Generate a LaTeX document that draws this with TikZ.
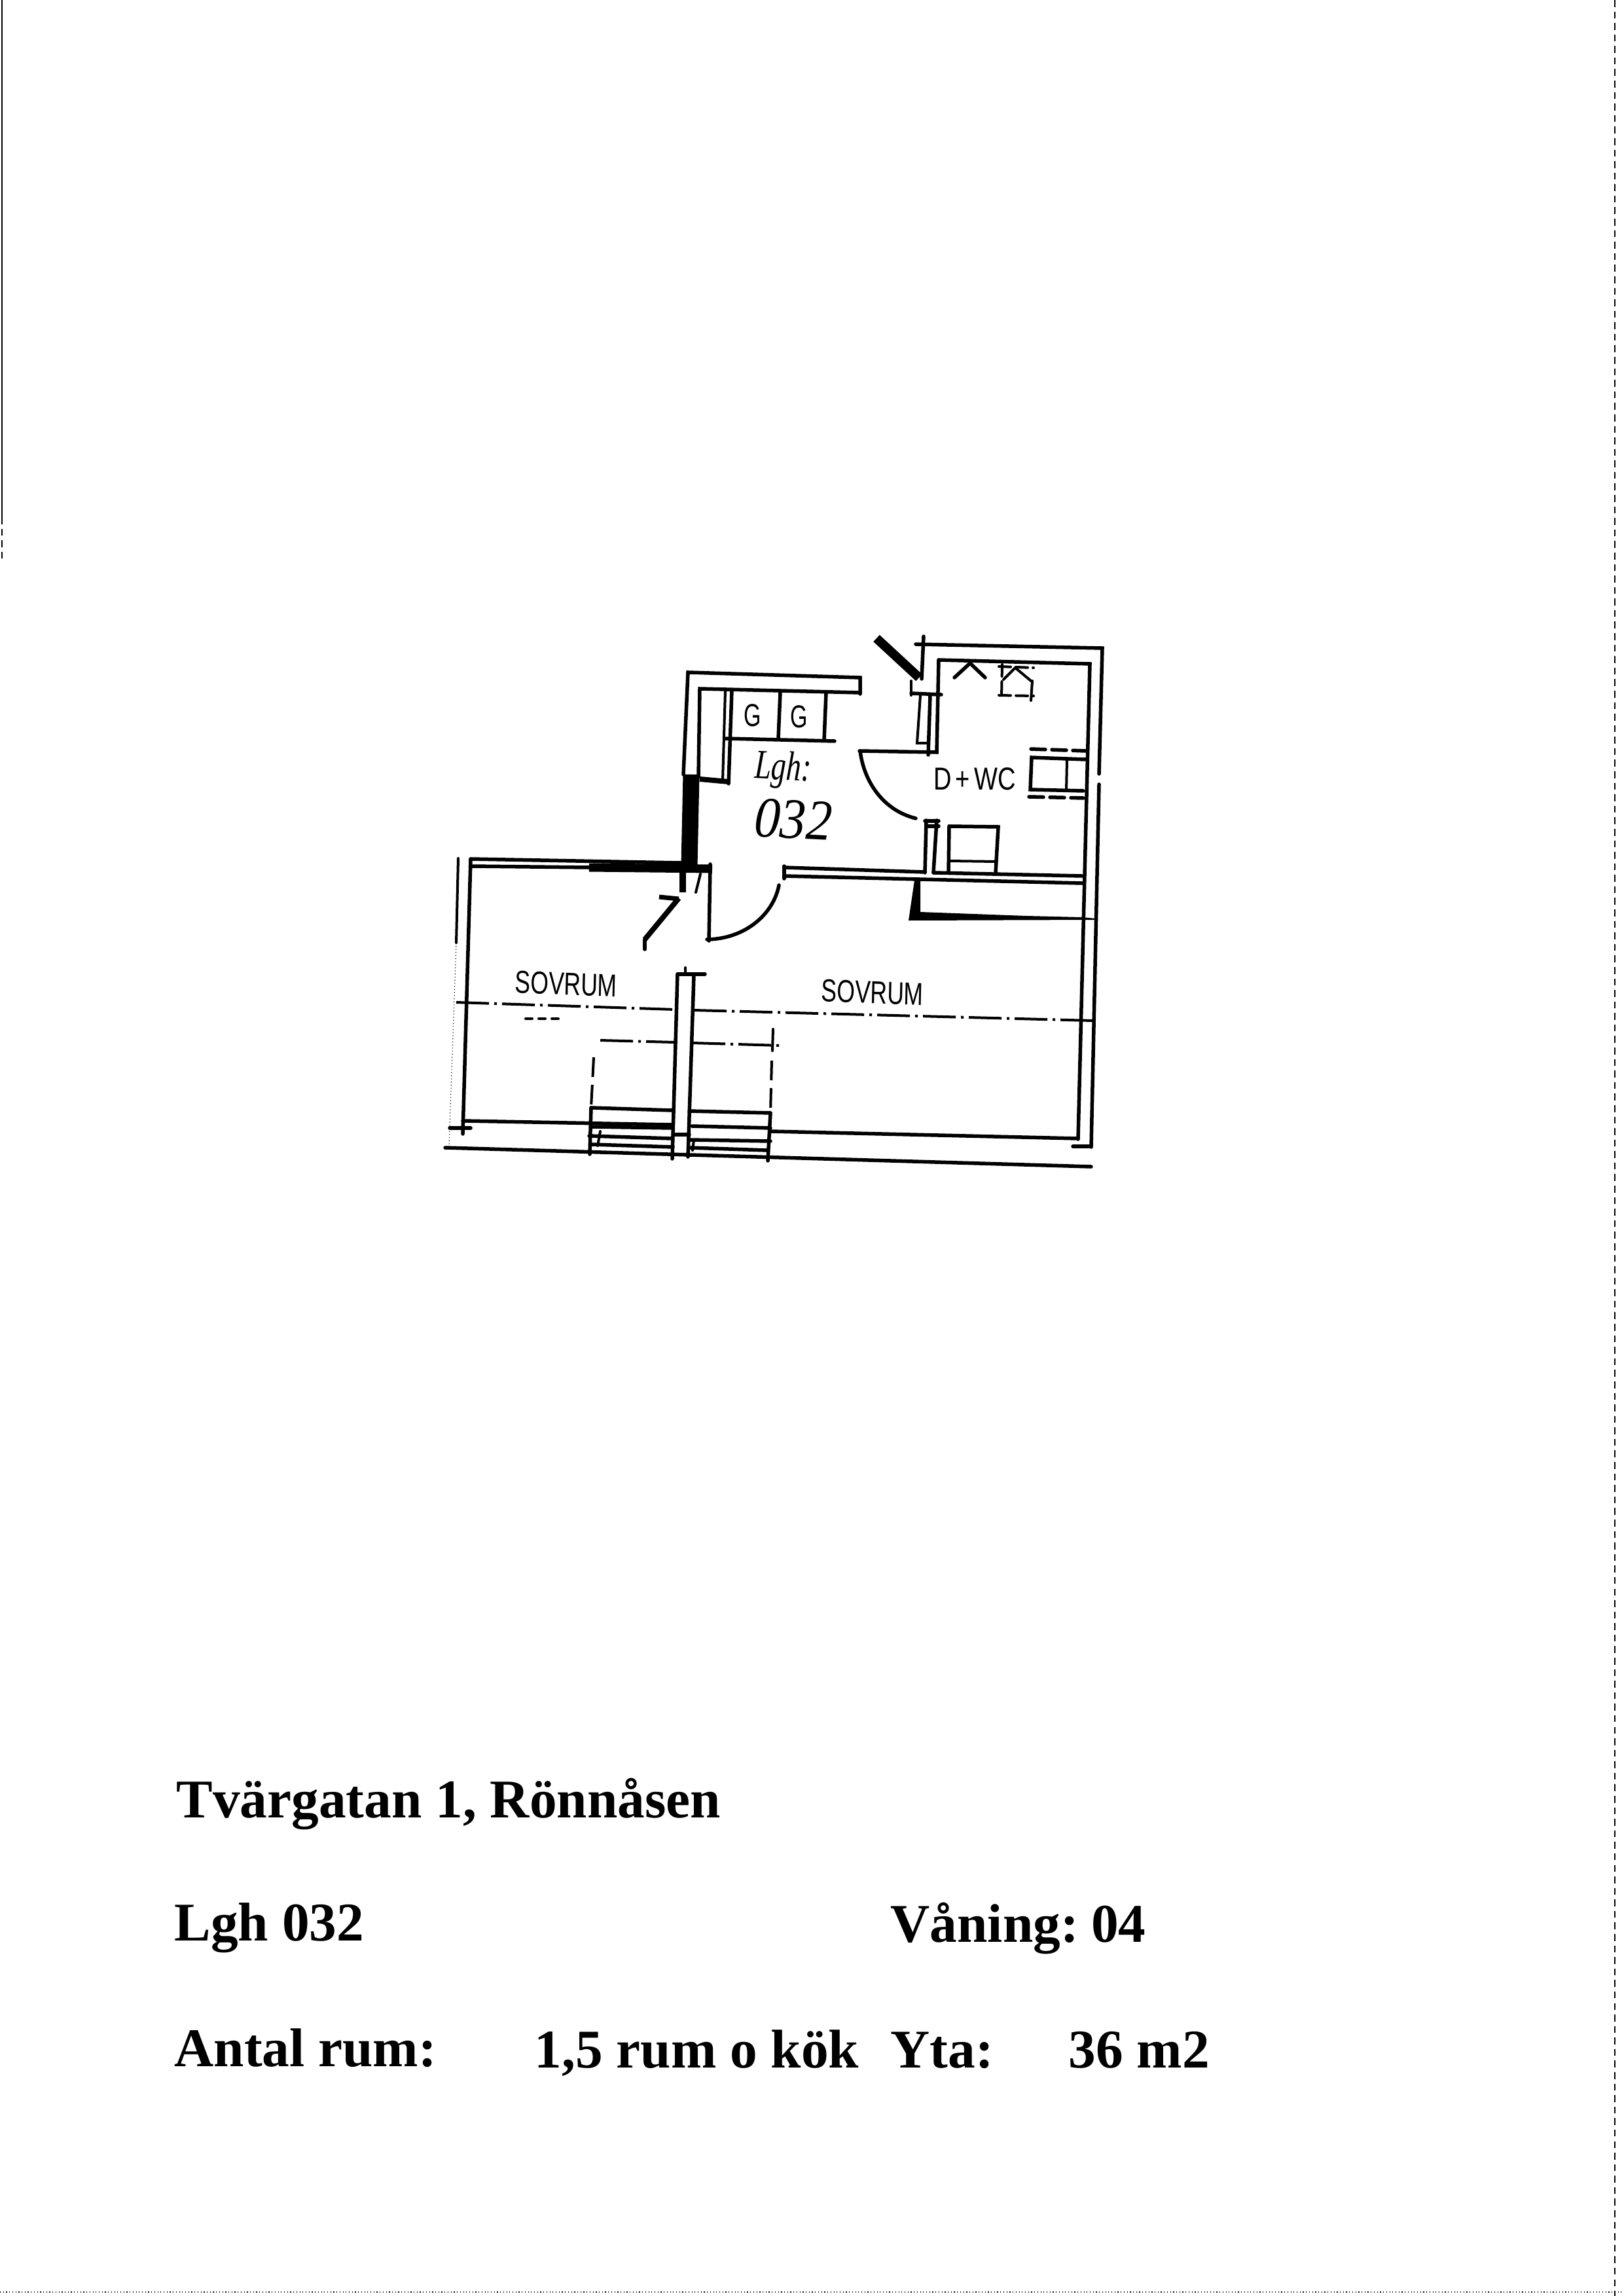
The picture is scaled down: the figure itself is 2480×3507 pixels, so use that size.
\documentclass[tikz,border=0pt]{standalone}
\usepackage{fontspec}
\setmainfont{Liberation Serif}
\setsansfont{Liberation Sans}
\usetikzlibrary{arrows.meta, positioning}

\tikzset{
	wall/.style={line width=0.055cm, line cap=round},
	thinline/.style={line width=0.04cm, line cap=round},
	heavy/.style={line width=0.13cm},
	dashline/.style={line width=0.04cm, dash pattern=on 0.3cm off 0.12cm},
	axisline/.style={line width=0.04cm, dash pattern=on 0.5cm off 0.08cm on 0.04cm off 0.08cm},
	edgeline/.style={line width=0.012cm},
	roomlabel/.style={font=\sffamily\fontsize{13.8}{14}\selectfont, xscale=0.73, inner sep=0pt, rotate=-1.8},
	fixlabel/.style={font=\sffamily\fontsize{13.8}{14}\selectfont, xscale=0.7, inner sep=0pt},
	handlabel/.style={font=\itshape, inner sep=0pt, rotate=-3},
	infolabel/.style={font=\bfseries\fontsize{23.7}{24}\selectfont, anchor=base west, inner sep=0pt}
}

\begin{document}
\begin{tikzpicture}[x=0.01cm, y=-0.01cm]
	\useasboundingbox (0,0) rectangle (2480,3507);

	% Kitchen walls
	\draw[wall] (1314,1060) -- (1314,1035) -- (1051,1027) -- (1044,1183);
	\draw[wall] (1314,1058) -- (1069,1052) -- (1067,1187);
	\draw[thinline] (1108,1055) -- (1104,1193);
	\draw[wall] (1118,1055) -- (1113,1197);
	\draw[heavy, line width=0.08cm] (1069,1190) -- (1113,1194);
	\draw[heavy, line width=0.25cm] (1056,1183) -- (1053,1322);

	% Cooker
	\draw[wall] (1109,1128) -- (1275,1132);
	\draw[wall] (1192,1057) -- (1189,1128);
	\draw[wall] (1262,1058) -- (1259,1131);
	\node (g1) [fixlabel] at (1150,1093) {G};
	\node (g2) [fixlabel] at (1221,1095) {G};

	% Handwritten number
	\node (lgh) [handlabel, xscale=0.72, font=\itshape\fontsize{18}{18}\selectfont] at (1196,1176) {Lgh:};
	\node (num) [handlabel, xscale=0.9, font=\itshape\fontsize{25}{25}\selectfont] at (1212,1252) {032};

	% Bathroom walls
	\draw[wall] (1399,984) -- (1684,990) -- (1679,1182);
	\draw[wall] (1679,1198) -- (1667,1752);
	\draw[wall] (1411,972) -- (1408,1037);
	\draw[heavy, line width=0.14cm] (1339,975) -- (1404,1035);
	\draw[wall] (1434,1008) -- (1665,1014) -- (1647,1740);
	\draw[wall] (1434,1008) -- (1431,1149) -- (1313,1147);
	\draw[wall] (1639,1751) -- (1667,1751);

	% Shaft beside the door
	\draw[thinline] (1392,1040) -- (1392,1062);
	\draw[wall] (1392,1059) -- (1438,1061);
	\draw[thinline] (1406,1062) -- (1401,1135) -- (1418,1135);
	\draw[wall] (1421,1062) -- (1418,1153);

	% Bathroom door
	\draw[wall] (1314,1147) .. controls (1320,1195) and (1350,1238) .. (1399,1250);
	\draw[wall] (1415,1253) -- (1413,1333);
	\draw[wall] (1431,1253) -- (1426,1333);
	\draw[wall] (1413,1254) -- (1434,1254);
	\draw[wall] (1415,1262) -- (1434,1262);

	% Bathroom fittings
	\draw[wall] (1450,1262) -- (1525,1263) -- (1521,1333);
	\draw[wall] (1450,1262) -- (1449,1333);
	\draw[thinline] (1450,1315) -- (1522,1316);
	\draw[wall] (1458,1035) -- (1482,1013) -- (1505,1035);
	\draw[thinline, dash pattern=on 0.18cm off 0.08cm] (1526,1018) -- (1579,1020);
	\draw[thinline, dash pattern=on 0.18cm off 0.08cm] (1526,1062) -- (1579,1063);
	\draw[thinline, dash pattern=on 0.18cm off 0.08cm] (1531,1015) -- (1530,1065);
	\draw[thinline] (1577,1040) -- (1575,1070);
	\draw[thinline] (1533,1038) -- (1551,1020) -- (1575,1040);
	\node (dwc) [fixlabel, xscale=1.12] at (1489,1190) {D\,+\,WC};
	\draw[wall] (1658,1160) -- (1576,1157) -- (1574,1206) -- (1655,1208);
	\draw[thinline] (1630,1160) -- (1629,1208);
	\draw[wall, dash pattern=on 0.22cm off 0.1cm] (1575,1144) -- (1658,1147);
	\draw[wall, dash pattern=on 0.22cm off 0.1cm] (1572,1217) -- (1655,1219);

	% Wall between the rooms
	\draw[wall] (1198,1323) -- (1198,1342);
	\draw[wall] (1198,1325) -- (1413,1332);
	\draw[wall] (1426,1333) -- (1653,1338);
	\draw[wall] (1198,1338) -- (1653,1349);
	\fill (1397,1345) -- (1406,1345) -- (1406,1393) -- (1568,1399) -- (1653,1401)
		-- (1674,1403) -- (1674,1405) -- (1388,1406) -- cycle;

	% Bedroom
	\draw[wall] (719,1312) -- (1040,1318);
	\draw[wall] (720,1323) -- (900,1325);
	\draw[wall] (719,1312) -- (707,1732);
	\draw[thinline] (700,1311) -- (697,1440);
	\draw[edgeline, densely dotted] (697,1440) -- (686,1750);
	\draw[heavy] (900,1325) -- (1088,1327);
	\draw[heavy, line width=0.1cm] (1043,1332) -- (1043,1363);
	\draw[thinline] (1070,1335) -- (1063,1363);
	\draw[wall] (1085,1320) -- (1083,1437);

	% Entrance door
	\draw[wall] (1080,1435) .. controls (1140,1434) and (1182,1395) .. (1190,1352);
	\draw[heavy, line width=0.07cm] (1007,1370) -- (1037,1373);
	\draw[heavy, line width=0.08cm] (1037,1372) -- (985,1435);
	\draw[wall] (985,1435) -- (985,1450);

	% Partition
	\draw[wall] (1035,1488) -- (1027,1770);
	\draw[wall] (1060,1490) -- (1051,1767);
	\draw[wall] (1035,1488) -- (1077,1488);
	\draw[thinline] (1047,1478) -- (1047,1488);
	\draw[wall] (1028,1733) -- (1053,1733);

	% Window axes
	\draw[axisline] (697,1531) -- (1032,1542);
	\draw[axisline] (1060,1543) -- (1670,1559);
	\draw[axisline] (917,1589) -- (1030,1592);
	\draw[axisline] (1058,1593) -- (1193,1597);
	\draw[thinline] (1181,1572) -- (1180,1605);
	\draw[thinline, dash pattern=on 0.1cm off 0.1cm] (803,1556) -- (860,1556);
	\draw[dashline] (907,1615) -- (903,1692);
	\draw[dashline] (1179,1620) -- (1177,1700);
	\node (sov1) [roomlabel] at (865,1503) {SOVRUM};
	\node (sov2) [roomlabel] at (1333,1516) {SOVRUM};

	% Balcony
	\draw[wall] (707,1712) -- (1027,1718);
	\draw[wall] (903,1721) -- (1027,1723);
	\draw[wall] (1057,1720) -- (1177,1723);
	\draw[wall] (1177,1728) -- (1647,1739);
	\draw[wall] (687,1723) -- (719,1723);
	\draw[wall] (903,1692) -- (1027,1696);
	\draw[wall] (1053,1697) -- (1177,1700);
	\draw[wall] (903,1692) -- (901,1763);
	\draw[wall] (1177,1700) -- (1173,1773);
	\draw[thinline] (917,1728) -- (913,1750);
	\draw[thinline] (1060,1741) -- (1058,1757);
	\draw[wall] (900,1735) -- (1027,1739);
	\draw[wall] (903,1748) -- (1028,1752);
	\draw[wall] (1053,1741) -- (1177,1743);
	\draw[wall] (1053,1753) -- (1173,1757);
	\draw[wall] (680,1753) -- (1667,1782);

	% Address block
	\node (addr) [infolabel] at (269,2776) {Tvärgatan 1, Rönnåsen};
	\node (lgh032) [infolabel] at (266,2964) {Lgh 032};
	\node (floor) [infolabel] at (1360,2966) {Våning:\hspace{-0.1em} 04};
	\node (rooms) [infolabel] at (266,3156) {Antal rum:};
	\node (count) [infolabel] at (816,3158) {1,5 rum o kök};
	\node (area) [infolabel] at (1360,3158) {Yta:};
	\node (size) [infolabel] at (1632,3158) {36 m2};

	% Scan edges
	\draw[edgeline] (3,0) -- (3,790);
	\draw[edgeline, densely dashed] (3,790) -- (3,858);
	\draw[edgeline, densely dashed] (2467,0) -- (2467,3507);
	\draw[edgeline, densely dotted] (0,3501) -- (2480,3501);
\end{tikzpicture}
\end{document}
